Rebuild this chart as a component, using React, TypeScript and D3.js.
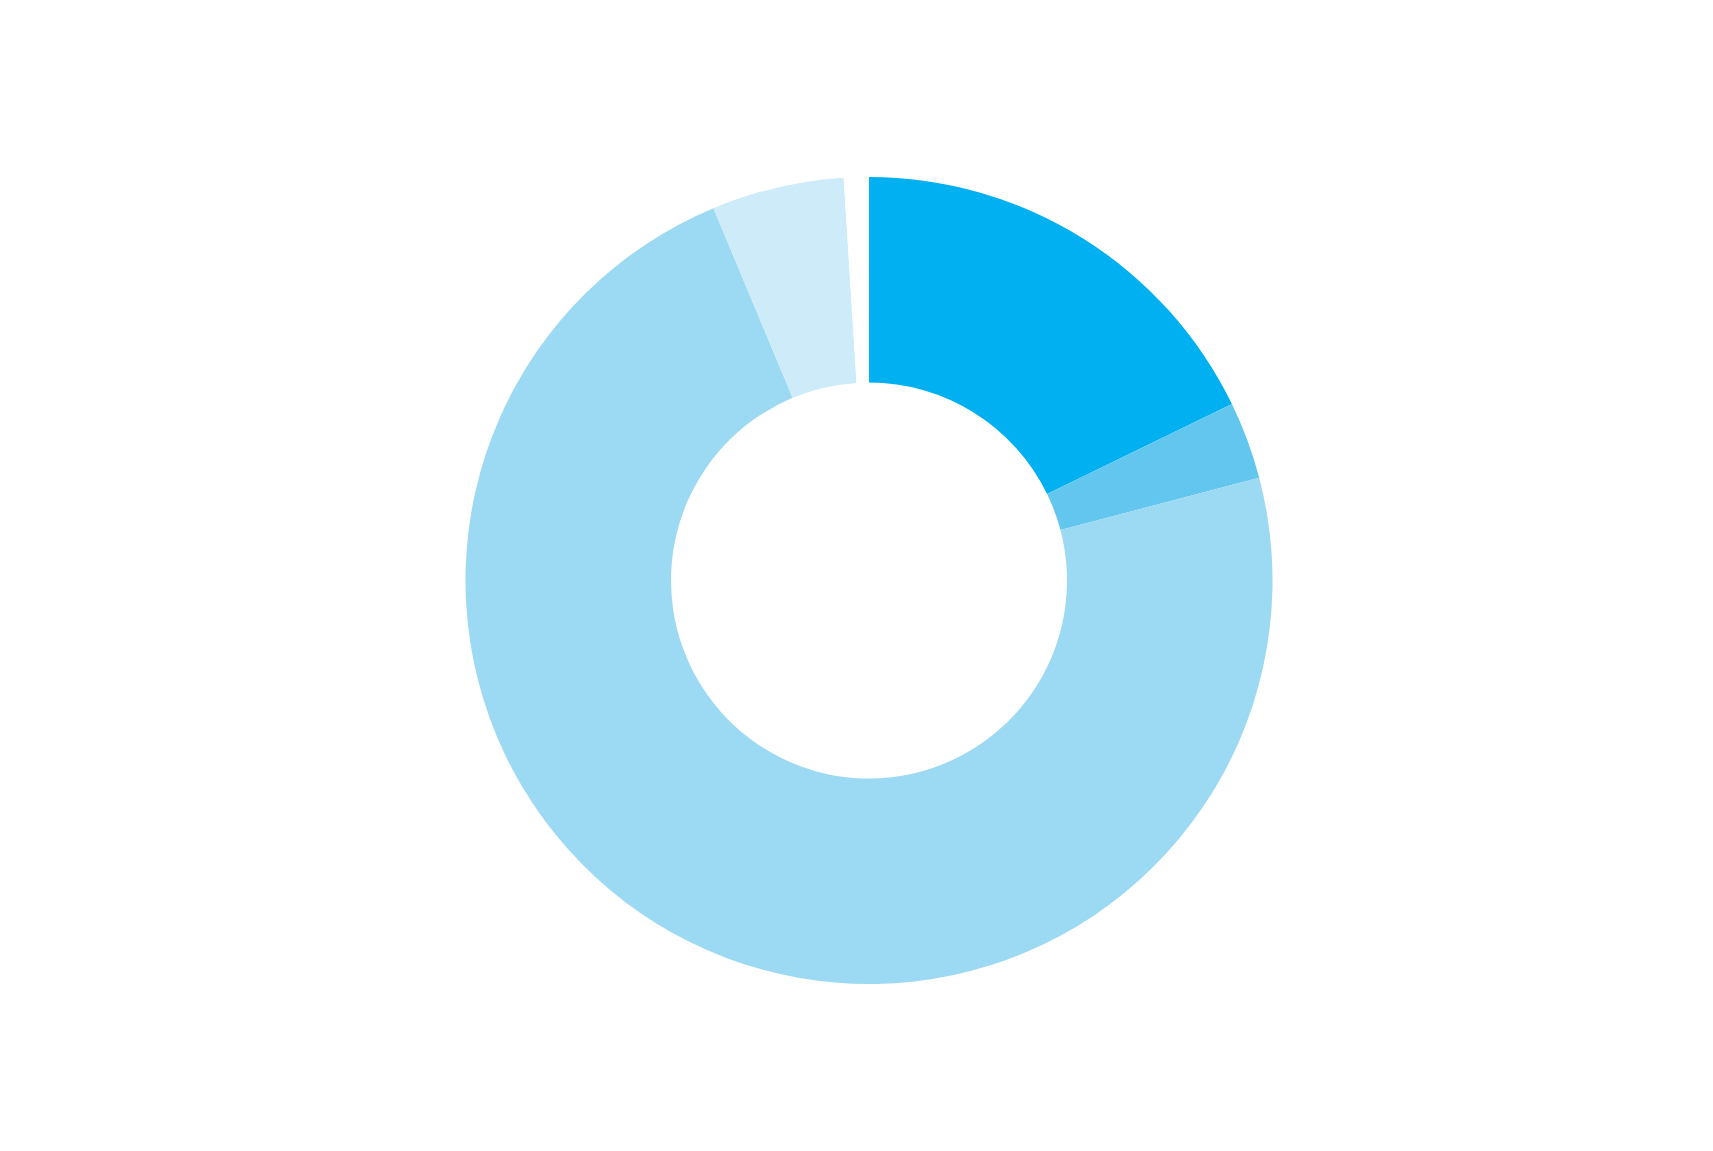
import React from "react";
import * as d3 from "d3";

const categories = ["A", "B", "C", "D", "Gap"];
const values = [17.8, 3.1, 72.8, 5.3, 1.0];
const colors = ["#00B0F0", "#63C6EF", "#9CD9F3", "#CDEBF8", "#FFFFFF"];

export default function App() {
  const width = 1713;
  const height = 1151;
  const cx = 869;
  const cy = 580.5;
  const outerR = 403.5;
  const innerR = 198;

  const pie = d3.pie<number>().sort(null).value((d) => d);
  const arcs = pie(values);
  const arc = d3.arc<d3.PieArcDatum<number>>().innerRadius(innerR).outerRadius(outerR);

  return (
    <svg
      width={width}
      height={height}
      style={{ position: "absolute", left: 0, top: 0, background: "#fff" }}
    >
      <rect width={width} height={height} fill="#fff" />
      <g transform={`translate(${cx},${cy})`}>
        {arcs.map((a, i) => (
          <path key={categories[i]} d={arc(a) || ""} fill={colors[i]} />
        ))}
      </g>
    </svg>
  );
}
